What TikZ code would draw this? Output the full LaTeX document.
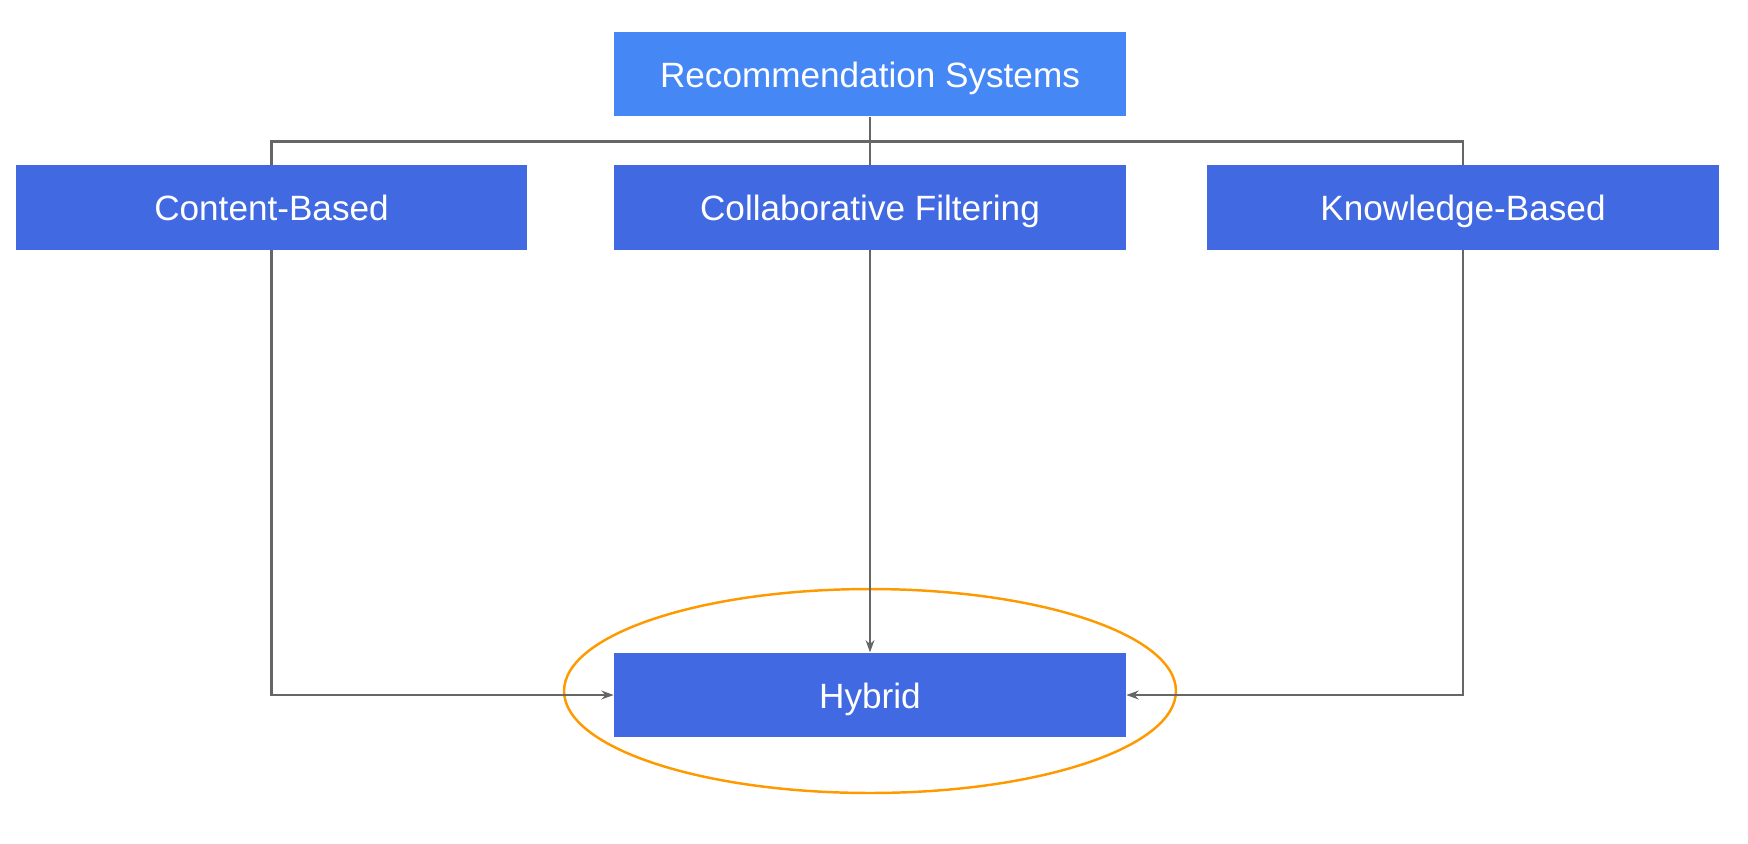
\documentclass[tikz,border=0pt]{standalone}
\usepackage{fontspec}
\setmainfont{Liberation Sans}
\usetikzlibrary{arrows.meta,shapes.geometric}
\definecolor{recblue}{RGB}{69,136,245}
\definecolor{royal}{RGB}{65,105,225}
\definecolor{ambre}{RGB}{255,153,0}
\definecolor{trait}{RGB}{102,102,102}

\begin{document}
\begin{tikzpicture}[x=0.02cm,y=-0.02cm,
  box/.style={fill=royal, text=white, inner sep=0pt, minimum width=10.24cm, minimum height=1.69cm, text height=15pt, text depth=0pt, font=\fontsize{20}{24}\selectfont},
  link/.style={draw=trait, line width=1.2pt},
  fleche/.style={link, -{Stealth[length=7pt,width=5pt]}}]
\useasboundingbox (0,0) rectangle (1748,843);
\node [ambre, draw, line width=1.4pt, ellipse, minimum width=12.24cm, minimum height=4.08cm] (ring) at (870,691) {};
\node [box, fill=recblue] (rs) at (870,74) {Recommendation Systems};
\node [box] (cb) at (271.5,207.5) {Content-Based};
\node [box] (cf) at (870,207.5) {Collaborative Filtering};
\node [box] (kb) at (1463,207.5) {Knowledge-Based};
\node [box] (hy) at (870,695) {Hybrid};
\coordinate (split) at (870,141.5);
% tree on top
\draw [link] (rs.south) -- (split);
\draw [link] (cb.north) |- (split) -| (kb.north);
\draw [link] (split) -- (cf.north);
% into hybrid
\draw [fleche] (cb.south) |- (hy.west);
\draw [fleche] (cf.south) -- (hy.north);
\draw [fleche] (kb.south) |- (hy.east);
\end{tikzpicture}
\end{document}
